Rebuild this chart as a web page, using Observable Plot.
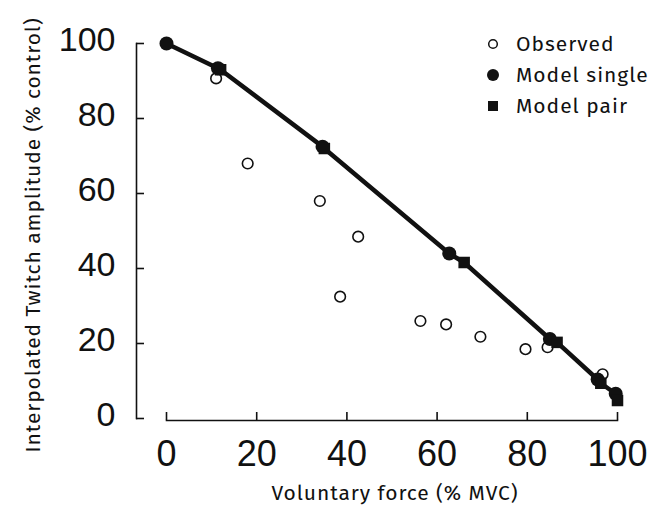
<!DOCTYPE html>
<html>
<head>
<meta charset="utf-8">
<script src="https://cdn.jsdelivr.net/npm/d3@7"></script>
<script src="https://cdn.jsdelivr.net/npm/@observablehq/plot@0.6"></script>
<style>
  html, body { margin: 0; padding: 0; background: #fff; }
  #wrap { position: relative; width: 661px; height: 516px; }
  #legend { position: absolute; left: 483px; top: 28px; font-family: "Fira Sans", "Noto Sans", sans-serif; font-size: 21px; letter-spacing: 1px; color: #111; }
  #legend .item { display: flex; align-items: center; height: 31px; }
  #legend svg { width: 20px; height: 20px; flex: none; }
  #legend span { margin-left: 13px; }
</style>
</head>
<body>
<div id="wrap"></div>
<script>
// ---- data ----
const seriesNames = ["Observed", "Model single", "Model pair"];

const observedX = [11, 18, 34, 42.5, 38.5, 56.3, 62, 69.6, 79.6, 84.5, 96.7];
const observedY = [90.7, 68, 58, 48.5, 32.5, 26, 25.1, 21.8, 18.5, 19, 11.8];

const singleX = [0, 11.4, 34.6, 62.7, 85, 95.6, 99.6];
const singleY = [100, 93.4, 72.5, 44, 21.2, 10.4, 6.6];

const pairX = [12, 35, 66, 86.6, 96.3, 100];
const pairY = [93, 72, 41.6, 20.3, 9.4, 4.8];

const xTicks = [0, 20, 40, 60, 80, 100];
const yTicks = [0, 20, 40, 60, 80, 100];

const xTitle = "Voluntary force (% MVC)";
const yTitle = "Interpolated Twitch amplitude (% control)";

// ---- build tables ----
const observed = observedX.map((x, i) => ({x, y: observedY[i]}));
const single = singleX.map((x, i) => ({x, y: singleY[i]}));
const pair = pairX.map((x, i) => ({x, y: pairY[i]}));
const model = [...single, ...pair].sort((a, b) => a.x - b.x);

const tickFont = "Liberation Sans, Arial, Helvetica, sans-serif";
const titleFont = "'Fira Sans', 'Noto Sans', sans-serif";

const chart = Plot.plot({
  width: 661,
  height: 516,
  marginLeft: 166,
  marginRight: 44,
  marginTop: 43,
  marginBottom: 98,
  style: {background: "white", color: "#111"},
  x: {domain: [0, 100], ticks: xTicks, label: null},
  y: {domain: [0, 100], ticks: yTicks, label: null},
  marks: [
    // y axis: line, inward ticks, labels
    Plot.frame({anchor: "left", dx: -30, stroke: "#111", strokeWidth: 1.6}),
    Plot.axisY({ticks: yTicks, tickSize: -8, dx: -30, tickFormat: () => "", label: null, strokeWidth: 1.6}),
    Plot.axisY({ticks: yTicks, tickSize: 0, tickPadding: 51, dy: -3, fontSize: 34, fontFamily: tickFont, label: null}),
    // x axis
    Plot.frame({anchor: "bottom", dy: 2, stroke: "#111", strokeWidth: 1.6}),
    Plot.axisX({ticks: xTicks, tickSize: -8, dy: 2, tickFormat: () => "", label: null, strokeWidth: 1.6}),
    Plot.axisX({ticks: xTicks, tickSize: 0, tickPadding: 22, fontSize: 36, fontFamily: tickFont, label: null}),
    // titles
    Plot.text([xTitle], {text: d => d, frameAnchor: "bottom", textAnchor: "middle", dy: 81, dx: 3, fontSize: 21, fontFamily: titleFont, fill: "#111"}),
    Plot.text([yTitle], {text: d => d, frameAnchor: "left", textAnchor: "middle", rotate: -90, dx: -133, dy: 4, fontSize: 21, fontFamily: titleFont, fill: "#111"}),
    // data
    Plot.dot(observed, {x: "x", y: "y", r: 5.3, stroke: "#111", strokeWidth: 1.6, fill: "white"}),
    Plot.line(model, {x: "x", y: "y", stroke: "#111", strokeWidth: 4.5}),
    Plot.dot(single, {x: "x", y: "y", r: 7, fill: "#111"}),
    Plot.dot(pair, {x: "x", y: "y", symbol: "square", r: 6.5, fill: "#111"})
  ]
});

const wrap = document.getElementById("wrap");
wrap.appendChild(chart);
// letter spacing for the titles
chart.querySelectorAll("text").forEach(t => {
  if (t.textContent === yTitle || t.textContent === xTitle) t.style.letterSpacing = "0.9px";
});

// legend
const legend = document.createElement("div");
legend.id = "legend";
const symbols = [
  '<circle cx="10" cy="10" r="4.3" fill="white" stroke="#111" stroke-width="1.5"/>',
  '<circle cx="10" cy="10" r="6" fill="#111"/>',
  '<rect x="5" y="5" width="10" height="10" fill="#111"/>'
];
seriesNames.forEach((name, i) => {
  const item = document.createElement("div");
  item.className = "item";
  item.innerHTML = `<svg viewBox="0 0 20 20">${symbols[i]}</svg><span>${name}</span>`;
  legend.appendChild(item);
});
wrap.appendChild(legend);
</script>
</body>
</html>
